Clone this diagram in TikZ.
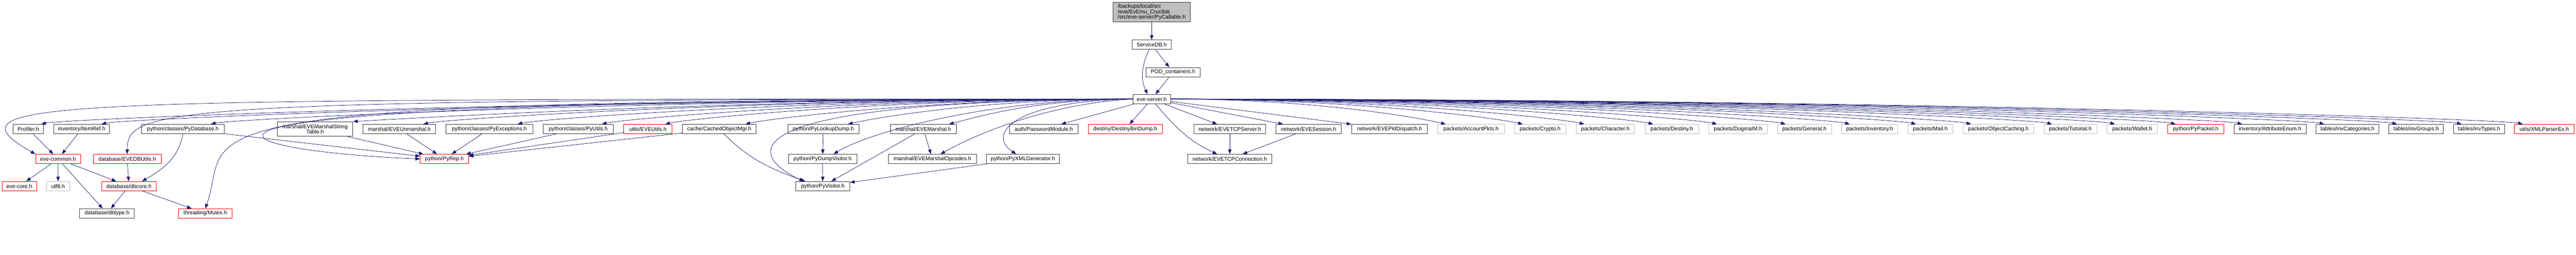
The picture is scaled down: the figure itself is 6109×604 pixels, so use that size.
\documentclass[tikz,border=0pt]{standalone}
\usepackage{fontspec}
\setmainfont{Liberation Sans}
\usetikzlibrary{arrows.meta}
\definecolor{edgeblue}{HTML}{191970}
\definecolor{boxline}{HTML}{404040}
\definecolor{boxgray}{HTML}{BFBFBF}
\tikzset{
  hdr/.style={rectangle, draw=boxline, fill=white, line width=1pt, minimum height=22pt, inner sep=0pt, font=\fontsize{12.9}{12.7}\selectfont},
  redhdr/.style={hdr, draw=red},
  syshdr/.style={hdr, draw=boxgray},
  edge/.style={draw=edgeblue, line width=0.9pt, -{Triangle[length=11pt,width=8pt]}},
}
\begin{document}
\begin{tikzpicture}[x=1pt, y=1pt]
\useasboundingbox (0,0) rectangle (6109,-604);
% top of the graph
\node[hdr, fill=boxgray, minimum width=182.7pt, minimum height=47pt, align=left] (top) at (2731.3,-28.5) {/backups/local/src\\/eve/EvEmu\_Crucible\\/src/eve-server/PyCallable.h};
\node[hdr, minimum width=93.7pt] (sdb) at (2731.2,-106) {ServiceDB.h};
\node[hdr, minimum width=128.3pt] (pod) at (2781.8,-171) {POD\_containers.h};
\node[hdr, minimum width=89.3pt] (es) at (2731.3,-235) {eve-server.h};
% first row
\node[hdr, minimum width=72.3pt] (prof) at (67.2,-306) {Profiler.h};
\node[hdr, minimum width=132.3pt] (itemref) at (193.8,-306) {inventory/ItemRef.h};
\node[hdr, minimum width=196pt] (pydb) at (433.7,-306) {python/classes/PyDatabase.h};
\node[hdr, minimum width=179pt, minimum height=34.6pt, align=center] (strtable) at (747.2,-306) {marshal/EVEMarshalString\\Table.h};
\node[hdr, minimum width=172.3pt] (unmarshal) at (947.2,-306) {marshal/EVEUnmarshal.h};
\node[hdr, minimum width=207pt] (pyexc) at (1160.5,-306) {python/classes/PyExceptions.h};
\node[hdr, minimum width=167pt] (pyutils) at (1371.2,-306) {python/classes/PyUtils.h};
\node[redhdr, minimum width=115pt] (eveutils) at (1536.5,-306) {utils/EVEUtils.h};
\node[hdr, minimum width=175pt] (cache) at (1705.8,-306) {cache/CachedObjectMgr.h};
\node[hdr, minimum width=168.4pt] (pylookup) at (1952.5,-306) {python/PyLookupDump.h};
\node[hdr, minimum width=156.3pt] (evemarshal) at (2189.8,-306) {marshal/EVEMarshal.h};
\node[hdr, minimum width=161.7pt] (passwd) at (2475.2,-306) {auth/PasswordModule.h};
\node[redhdr, minimum width=176.4pt] (dbd) at (2668.5,-306) {destiny/DestinyBinDump.h};
\node[hdr, minimum width=169.6pt] (tcpsrv) at (2916.5,-306) {network/EVETCPServer.h};
\node[hdr, minimum width=156.3pt] (session) at (3103.2,-306) {network/EVESession.h};
\node[hdr, minimum width=180.3pt] (pktdisp) at (3295.2,-306) {network/EVEPktDispatch.h};
\node[syshdr, minimum width=159pt] (acct) at (3488.5,-306) {packets/AccountPkts.h};
\node[syshdr, minimum width=121.6pt] (crypto) at (3652.5,-306) {packets/Crypto.h};
\node[syshdr, minimum width=138.6pt] (character) at (3807,-306) {packets/Character.h};
\node[syshdr, minimum width=127.3pt] (destinypk) at (3964.7,-306) {packets/Destiny.h};
\node[syshdr, minimum width=139pt] (dogma) at (4121.8,-306) {packets/DogmaIM.h};
\node[syshdr, minimum width=128.3pt] (general) at (4279.2,-306) {packets/General.h};
\node[syshdr, minimum width=133.4pt] (inventory) at (4434,-306) {packets/Inventory.h};
\node[syshdr, minimum width=107pt] (mail) at (4577.8,-306) {packets/Mail.h};
\node[syshdr, minimum width=168.3pt] (objcache) at (4739.2,-306) {packets/ObjectCaching.h};
\node[syshdr, minimum width=125.7pt] (tutorial) at (4909.8,-306) {packets/Tutorial.h};
\node[syshdr, minimum width=120.4pt] (wallet) at (5056.5,-306) {packets/Wallet.h};
\node[redhdr, minimum width=134pt] (pypacket) at (5207,-306) {python/PyPacket.h};
\node[hdr, minimum width=171pt] (attrenum) at (5383.2,-306) {inventory/AttributeEnum.h};
\node[hdr, minimum width=149.7pt] (invcat) at (5567.2,-306) {tables/invCategories.h};
\node[hdr, minimum width=129.3pt] (invgrp) at (5729.7,-306) {tables/invGroups.h};
\node[hdr, minimum width=121.7pt] (invtyp) at (5879.2,-306) {tables/invTypes.h};
\node[redhdr, minimum width=140.7pt] (xmlparser) at (6033.7,-306) {utils/XMLParserEx.h};
% second row
\node[redhdr, minimum width=106.7pt] (evecommon) at (137.7,-377) {eve-common.h};
\node[redhdr, minimum width=161.3pt] (evedbutils) at (301.7,-377) {database/EVEDBUtils.h};
\node[redhdr, minimum width=114.3pt] (pyrep) at (1053.8,-377) {python/PyRep.h};
\node[hdr, minimum width=163pt] (pydump) at (1950.8,-377) {python/PyDumpVisitor.h};
\node[hdr, minimum width=208.3pt] (opcodes) at (2211.2,-377) {marshal/EVEMarshalOpcodes.h};
\node[hdr, minimum width=173.7pt] (pyxml) at (2425.8,-377) {python/PyXMLGenerator.h};
\node[hdr, minimum width=199pt] (tcpconn) at (2916.5,-377) {network/EVETCPConnection.h};
% third and fourth rows
\node[redhdr, minimum width=81.7pt] (evecore) at (45.8,-441.5) {eve-core.h};
\node[syshdr, minimum width=55pt] (utf8) at (137.8,-441.5) {utf8.h};
\node[redhdr, minimum width=129.7pt] (dbcore) at (305.8,-441.5) {database/dbcore.h};
\node[hdr, minimum width=128.3pt] (pyvisitor) at (1951.2,-441.5) {python/PyVisitor.h};
\node[hdr, minimum width=129.7pt] (dbtype) at (253.8,-506) {database/dbtype.h};
\node[redhdr, minimum width=127pt] (mutex) at (486.8,-506) {threading/Mutex.h};
% edges
\draw[edge] (top) -- (sdb);
\draw[edge] (sdb) -- (pod);
\draw[edge] (pod) -- (es);
\draw[edge] ([xshift=-6pt]sdb.south) to[out=-115, in=115] ([xshift=-10pt]es.north);
\foreach \n in {dbd, tcpsrv, session, pktdisp, passwd}
  \draw[edge] (es) -- (\n);
\foreach \n/\d in {acct/361, crypto/458, character/540, destinypk/628, dogma/713, general/802, inventory/886, mail/969, objcache/1049, tutorial/1150, wallet/1230, pypacket/1312, attrenum/1403, invcat/1508, invgrp/1600, invtyp/1684, xmlparser/1766}
  \draw[edge] (es.east) .. controls +(\d,0) and +(-45,11) .. ([xshift=20pt]\n.north west);
\foreach \n/\d/\o in {evemarshal/240/-18pt, pylookup/372/-26pt, cache/506/-26pt, eveutils/610/-17pt, pyutils/693/-28pt, pyexc/803/-37pt, unmarshal/926/-30pt, pydb/1203/-32pt, itemref/1346/-20pt, prof/1425/-6pt}
  \draw[edge] (es.west) .. controls +(-\d,0) and +(45,11) .. ([xshift=\o]\n.north east);
\draw[edge] (es.west) .. controls +(-1000,0) and +(60,3) .. (strtable.north east);
\draw[edge] (es.west) .. controls +(-2600,0) and +(-225,130) .. (evecommon.north west);
\draw[edge] (es.west) .. controls +(-2300,0) and +(0,110) .. (evedbutils.north);
\draw[edge] (es.west) .. controls +(-2600,0) and +(-500,20) .. (pyrep.west);
\draw[edge] (es.west) .. controls +(-2387,0) and +(70,195) .. (mutex.north);
\draw[edge] (es.west) .. controls +(-1037,-5) and +(-107,48) .. ([xshift=20pt]pyvisitor.north west);
\draw[edge] (es.west) .. controls +(-350,0) and +(80,50) .. ([xshift=26pt]pydump.north);
\draw[edge] (es.west) .. controls +(-187,-10) and +(100,56) .. ([xshift=19pt]opcodes.north);
\draw[edge] (es.west) .. controls +(-287,-5) and +(-70,46) .. ([xshift=-16pt]pyxml.north);
\draw[edge] ([xshift=9pt]es.south) to[out=-50, in=155] ([xshift=-30pt]tcpconn.north);
% lower levels
\draw[edge] (prof) -- (evecommon);
\draw[edge] (itemref) -- (evecommon);
\draw[edge] (evecommon) -- (evecore);
\draw[edge] (evecommon) -- (utf8);
\draw[edge] (evecommon) -- (dbtype);
\draw[edge] (evecommon) -- (dbcore);
\draw[edge] (evedbutils) -- (dbcore);
\draw[edge] (pydb.south) to[out=-100, in=30] ([xshift=31pt]dbcore.north);
\draw[edge] (dbcore) -- (dbtype);
\draw[edge] (dbcore) -- (mutex);
\foreach \n in {pydb, strtable, unmarshal, pyexc, pyutils, eveutils, cache}
  \draw[edge] (\n) -- (pyrep);
\draw[edge] ([xshift=11pt]cache.south) to[out=-45, in=160] ([xshift=23pt]pyvisitor.north west);
\draw[edge] (evemarshal) -- (pyvisitor);
\draw[edge] (evemarshal) -- (opcodes);
\draw[edge] (pyxml) -- (pyvisitor);
\draw[edge] (pylookup) -- (pydump);
\draw[edge] (pydump) -- (pyvisitor);
\draw[edge] (tcpsrv) -- (tcpconn);
\draw[edge] (session) -- (tcpconn);
\end{tikzpicture}
\end{document}
